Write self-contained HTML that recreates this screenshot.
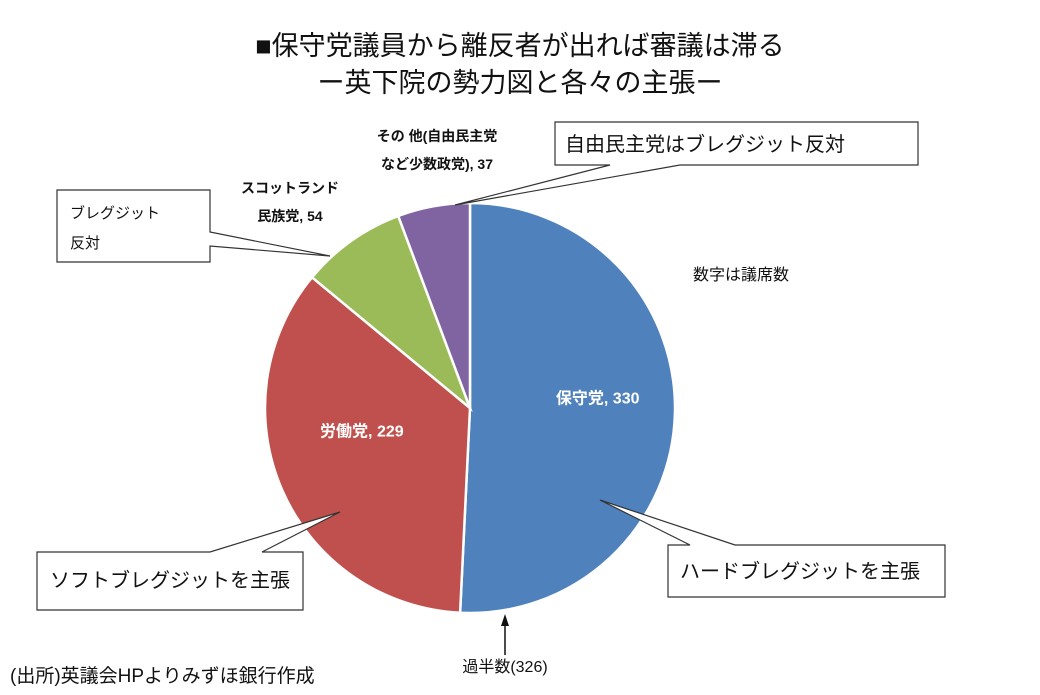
<!DOCTYPE html>
<html><head><meta charset="utf-8">
<style>
body{margin:0;background:#fff;}
svg text{font-family:"Liberation Sans","Noto Sans CJK JP",sans-serif;}
</style></head>
<body>
<svg width="1040" height="690" viewBox="0 0 1040 690">
<text x="520" y="55" text-anchor="middle" font-size="27" fill="#111">■保守党議員から離反者が出れば審議は滞る</text>
<text x="520" y="92" text-anchor="middle" font-size="27" fill="#111">ー英下院の勢力図と各々の主張ー</text>
<g id="slices"></g>
<g id="labels"></g>
<!-- callouts -->
<g fill="#fff" stroke="#333" stroke-width="1.2">
<polygon points="555,122 918,122 918,165 680,165 455,205 610,165 555,165"/>
<polygon points="57,190 210,190 210,232 330,256 210,246 210,262 57,262"/>
<polygon points="668,545 690,545 600,500 735,545 945,545 945,597 668,597"/>
<polygon points="37,552 210,552 340,512 262,552 303,552 303,610 37,610"/>
</g>
<text x="565" y="151" font-size="20" fill="#111">自由民主党はブレグジット反対</text>
<text x="70" y="218" font-size="15" fill="#111">ブレグジット</text>
<text x="70" y="248" font-size="15" fill="#111">反対</text>
<text x="680" y="578" font-size="20" fill="#111">ハードブレグジットを主張</text>
<text x="50" y="587" font-size="20" fill="#111">ソフトブレグジットを主張</text>
<text x="693" y="280" font-size="16" fill="#111">数字は議席数</text>
<line x1="505" y1="655" x2="505" y2="622" stroke="#111" stroke-width="1.5"/>
<polygon points="505,614 501,626 509,626" fill="#111"/>
<text x="505" y="672" text-anchor="middle" font-size="16" fill="#111">過半数(326)</text>
<text x="10" y="682" font-size="19" fill="#111">(出所)英議会HPよりみずほ銀行作成</text>
</svg>
<script>
const parties=["保守党","労働党","スコットランド民族党","その他"];
const seats=[330,229,54,37];
const colors=["#4f81bd","#c0504d","#9bbb59","#8064a2"];
const cx=470,cy=408,r=205;
const total=seats.reduce((a,b)=>a+b,0);
const ns="http://www.w3.org/2000/svg";
const g=document.getElementById('slices');
const lg=document.getElementById('labels');
function pt(a,rr){return [cx+rr*Math.sin(a),cy-rr*Math.cos(a)];}
let acc=0;
const mids=[];
seats.forEach((v,i)=>{
  const a0=acc/total*2*Math.PI; acc+=v; const a1=acc/total*2*Math.PI;
  const p0=pt(a0,r),p1=pt(a1,r);
  const large=(a1-a0)>Math.PI?1:0;
  const p=document.createElementNS(ns,'path');
  p.setAttribute('d',`M${cx},${cy}L${p0[0]},${p0[1]}A${r},${r} 0 ${large} 1 ${p1[0]},${p1[1]}Z`);
  p.setAttribute('fill',colors[i]);p.setAttribute('stroke','#fff');p.setAttribute('stroke-width','2.5');
  
  
  g.appendChild(p);
  mids.push((a0+a1)/2);
});
function addText(x,y,txt,fill,size,name){
  const t=document.createElementNS(ns,'text');
  t.setAttribute('x',x);t.setAttribute('y',y);t.setAttribute('text-anchor','middle');
  t.setAttribute('font-size',size);t.setAttribute('fill',fill);t.setAttribute('font-weight','bold');
  t.textContent=txt;
  
  
  lg.appendChild(t);
}
let q=pt(mids[0],r*0.55); addText(q[0]+15,q[1]-7,parties[0]+", "+seats[0],"#fff",16,'label-con');
q=pt(mids[1],r*0.55); addText(q[0]-5,q[1]-17,parties[1]+", "+seats[1],"#fff",16,'label-lab');
addText(290,193,"スコットランド","#111",14,'label-snp-1');
addText(290,221,"民族党, "+seats[2],"#111",14,'label-snp-2');
addText(437,141,"その 他(自由民主党","#111",14,'label-oth-1');
addText(437,169,"など少数政党), "+seats[3],"#111",14,'label-oth-2');
</script>
</body></html>
